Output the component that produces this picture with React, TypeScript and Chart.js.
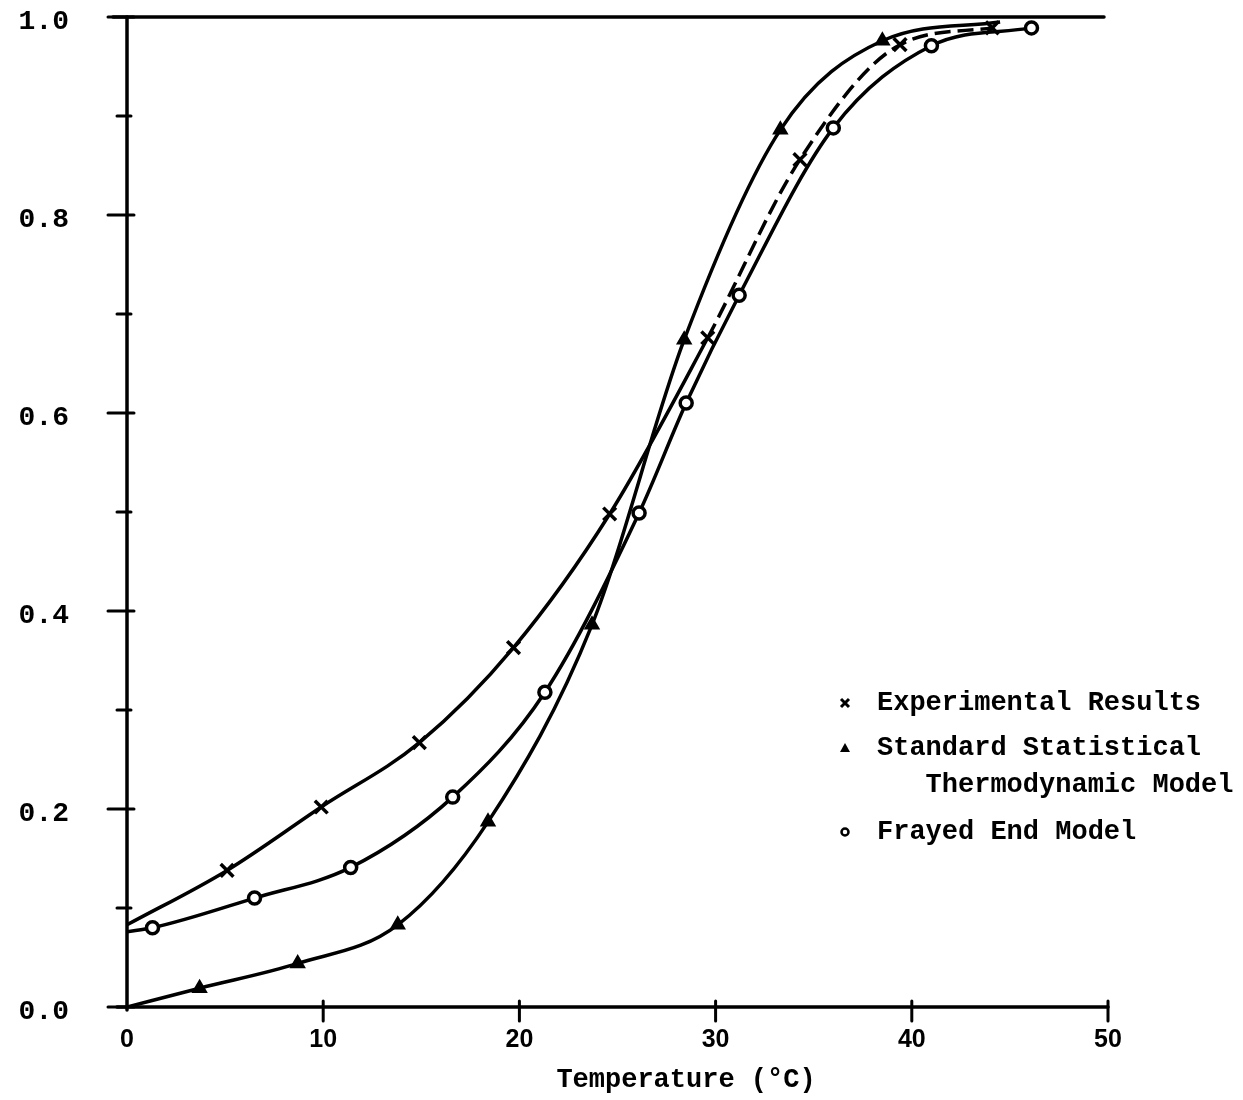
import { useEffect, useRef } from "react";
import { Chart, registerables } from "chart.js";

Chart.register(...registerables);

// Fraction helical vs. temperature (°C)
const experimentalX = [0, 5.1, 9.9, 14.9, 19.7, 24.6, 29.6, 34.3, 39.4, 44.1];
const experimentalY = [0.083, 0.138, 0.202, 0.267, 0.363, 0.498, 0.676, 0.856, 0.972, 0.989];

const standardX = [0, 3.7, 8.7, 13.8, 18.4, 23.7, 28.4, 33.3, 38.5, 44.5];
const standardY = [0, 0.019, 0.044, 0.083, 0.187, 0.386, 0.674, 0.886, 0.976, 0.995];

const frayedX = [0, 1.3, 6.5, 11.4, 16.6, 21.3, 26.1, 28.5, 31.2, 36.0, 41.0, 46.1];
const frayedY = [0.076, 0.08, 0.11, 0.141, 0.212, 0.318, 0.499, 0.61, 0.719, 0.888, 0.971, 0.989];

// which points carry a plotted symbol (curve ends without one are drawn as plain line)
const experimentalMarked = [false, true, true, true, true, true, true, true, true, true];
const standardMarked = [false, true, true, true, true, true, true, true, true, false];
const frayedMarked = [false, true, true, true, true, true, true, true, true, true, true, true];

const xTicks = [0, 10, 20, 30, 40, 50];
const yTicks = [0, 0.2, 0.4, 0.6, 0.8, 1.0];
const yMinorTicks = [0.1, 0.3, 0.5, 0.7, 0.9];

const xTitle = "Temperature (°C)";
const legendItems = [
  { marker: "cross", lines: ["Experimental Results"] },
  { marker: "triangle", lines: ["Standard Statistical", "   Thermodynamic Model"] },
  { marker: "circle", lines: ["Frayed End Model"] },
];

const MONO = "'Liberation Mono', 'DejaVu Sans Mono', monospace";
const SANS = "'Liberation Sans', Arial, sans-serif";

function toPoints(xs: number[], ys: number[]) {
  return xs.map((x, i) => ({ x, y: ys[i] }));
}

const axesPlugin = {
  id: "paperAxes",
  beforeDatasetsDraw(chart: any) {
    const { ctx } = chart;
    const xs = chart.scales.x;
    const ys = chart.scales.y;
    const x0 = xs.getPixelForValue(0);
    const x50 = xs.getPixelForValue(50);
    const y0 = ys.getPixelForValue(0);
    const y1 = ys.getPixelForValue(1);
    ctx.save();
    ctx.strokeStyle = "#000";
    ctx.lineCap = "round";
    ctx.lineWidth = 3.5;
    // y axis
    ctx.beginPath();
    ctx.moveTo(x0, y1);
    ctx.lineTo(x0, y0 + 3);
    ctx.stroke();
    // x axis
    ctx.beginPath();
    ctx.moveTo(x0 - 10, y0);
    ctx.lineTo(x50, y0);
    ctx.stroke();
    // top line at 1.0
    ctx.beginPath();
    ctx.moveTo(x0 - 14, y1);
    ctx.lineTo(x50 - 4, y1);
    ctx.stroke();
    // y ticks
    ctx.lineWidth = 3;
    yTicks.forEach((v) => {
      const py = ys.getPixelForValue(v);
      ctx.beginPath();
      ctx.moveTo(x0 - 19, py);
      ctx.lineTo(x0 + 7, py);
      ctx.stroke();
    });
    yMinorTicks.forEach((v) => {
      const py = ys.getPixelForValue(v);
      ctx.beginPath();
      ctx.moveTo(x0 - 10, py);
      ctx.lineTo(x0 + 4, py);
      ctx.stroke();
    });
    // x ticks
    xTicks.forEach((v) => {
      if (v === 0) return;
      const px = xs.getPixelForValue(v);
      ctx.beginPath();
      ctx.moveTo(px, y0 - 6);
      ctx.lineTo(px, y0 + 14);
      ctx.stroke();
    });
    ctx.restore();
  },
  afterDraw(chart: any) {
    const { ctx } = chart;
    ctx.save();
    ctx.fillStyle = "#000";
    ctx.strokeStyle = "#000";
    ctx.font = `bold 27px ${MONO}`;
    ctx.textBaseline = "middle";
    // x axis title
    ctx.textAlign = "center";
    ctx.fillText(xTitle, 686, 1080);
    // legend
    ctx.textAlign = "left";
    const rows = [703, 748, 832];
    legendItems.forEach((item, i) => {
      const cy = rows[i];
      const mx = 845;
      ctx.lineWidth = 3;
      if (item.marker === "cross") {
        ctx.beginPath();
        ctx.moveTo(mx - 4, cy - 4);
        ctx.lineTo(mx + 4, cy + 4);
        ctx.moveTo(mx + 4, cy - 4);
        ctx.lineTo(mx - 4, cy + 4);
        ctx.stroke();
      } else if (item.marker === "triangle") {
        ctx.beginPath();
        ctx.moveTo(mx, cy - 5);
        ctx.lineTo(mx + 5, cy + 4);
        ctx.lineTo(mx - 5, cy + 4);
        ctx.closePath();
        ctx.fill();
      } else {
        ctx.beginPath();
        ctx.arc(mx, cy, 3.5, 0, Math.PI * 2);
        ctx.lineWidth = 2.5;
        ctx.stroke();
      }
      item.lines.forEach((line, j) => {
        ctx.fillText(line, 877, cy + j * 37);
      });
    });
    ctx.restore();
  },
};

function markerRadius(marked: boolean[], r: number) {
  return (c: any) => (marked[c.dataIndex] ? r : 0);
}

export default function App() {
  const canvasRef = useRef<HTMLCanvasElement | null>(null);

  useEffect(() => {
    if (!canvasRef.current) return;
    const chart = new Chart(canvasRef.current, {
      type: "line",
      data: {
        datasets: [
          {
            label: "Experimental Results",
            data: toPoints(experimentalX, experimentalY),
            borderColor: "#000",
            backgroundColor: "#000",
            borderWidth: 3.5,
            cubicInterpolationMode: "monotone",
            pointStyle: "crossRot",
            pointRadius: markerRadius(experimentalMarked, 9),
            pointBorderWidth: 3.5,
            pointBorderColor: "#000",
            segment: {
              borderDash: (c: any) => (c.p0.parsed.x >= 29 ? [16, 7] : undefined),
            },
          },
          {
            label: "Standard Statistical Thermodynamic Model",
            data: toPoints(standardX, standardY),
            borderColor: "#000",
            backgroundColor: "#000",
            borderWidth: 3.5,
            cubicInterpolationMode: "monotone",
            pointStyle: "triangle",
            pointRadius: markerRadius(standardMarked, 7.5),
            pointBorderWidth: 2,
            pointBackgroundColor: "#000",
            pointBorderColor: "#000",
          },
          {
            label: "Frayed End Model",
            data: toPoints(frayedX, frayedY),
            borderColor: "#000",
            backgroundColor: "#fff",
            borderWidth: 3.5,
            cubicInterpolationMode: "monotone",
            pointStyle: "circle",
            pointRadius: markerRadius(frayedMarked, 6),
            pointBorderWidth: 3.5,
            pointBackgroundColor: "#fff",
            pointBorderColor: "#000",
          },
        ],
      },
      options: {
        responsive: false,
        animation: false,
        devicePixelRatio: 1,
        layout: { padding: { left: 0, right: 135, top: 17, bottom: 0 } },
        plugins: {
          legend: { display: false },
          tooltip: { enabled: false },
          title: { display: false },
        },
        scales: {
          x: {
            type: "linear",
            min: 0,
            max: 50,
            afterFit: (s: any) => {
              s.height = 93;
              s.paddingLeft = 0;
              s.paddingRight = 0;
            },
            afterBuildTicks: (s: any) => {
              s.ticks = xTicks.map((v) => ({ value: v }));
            },
            grid: { display: false, drawTicks: false },
            border: { display: false },
            ticks: {
              padding: 18,
              color: "#000",
              font: { family: SANS, size: 25, weight: "bold" },
              callback: (v: any) => String(v),
            },
          },
          y: {
            type: "linear",
            min: 0,
            max: 1,
            afterFit: (s: any) => {
              s.width = 127;
              s.paddingTop = 0;
              s.paddingBottom = 0;
            },
            afterBuildTicks: (s: any) => {
              s.ticks = yTicks.map((v) => ({ value: v }));
            },
            grid: { display: false, drawTicks: false },
            border: { display: false },
            ticks: {
              padding: 58,
              labelOffset: 5,
              color: "#000",
              font: { family: MONO, size: 28, weight: "bold" },
              callback: (v: any) => Number(v).toFixed(1),
            },
          },
        },
      },
      plugins: [axesPlugin],
    } as any);
    return () => chart.destroy();
  }, []);

  return (
    <div style={{ position: "absolute", left: 0, top: 0, width: 1243, height: 1100, background: "#fff" }}>
      <canvas ref={canvasRef} width={1243} height={1100} style={{ display: "block" }} />
    </div>
  );
}
